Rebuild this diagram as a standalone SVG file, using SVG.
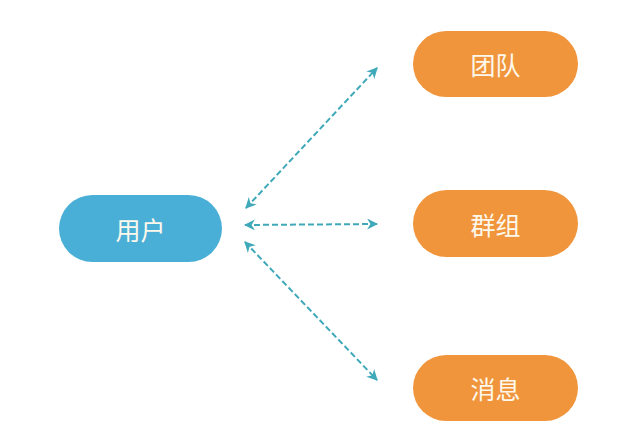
<svg xmlns="http://www.w3.org/2000/svg" width="644" height="439" viewBox="0 0 644 439">
<style>
.user{fill:#4aafd7}
.obj{fill:#f0953b}
.lbl{font-family:"Noto Sans CJK SC","Noto Sans",sans-serif;font-size:25px;fill:#fdf8ec;text-anchor:middle;dominant-baseline:central}
.conn{stroke:#3fa9b9;stroke-width:2;stroke-dasharray:6 3;fill:none;marker-start:url(#ah);marker-end:url(#ah)}
</style>
<defs>
<marker id="ah" viewBox="0 0 10 10" refX="9" refY="5" markerWidth="5.5" markerHeight="5.5" orient="auto-start-reverse" markerUnits="strokeWidth">
<path d="M0,0 L10,5 L0,10 L3,5 Z" fill="#3fa9b9"/>
</marker>
</defs>
<rect width="644" height="439" fill="#ffffff"/>
<g id="connectors">
<line class="conn" x1="246" y1="208" x2="377" y2="68"/>
<line class="conn" x1="245" y1="225" x2="377" y2="224"/>
<line class="conn" x1="245" y1="242" x2="377" y2="380"/>
</g>
<g id="node-user">
<rect class="user" x="59" y="195" width="163" height="67" rx="33.5"/>
<text class="lbl" x="140.5" y="228.5">用户</text>
</g>
<g id="node-team">
<rect class="obj" x="413" y="31" width="165" height="66" rx="33"/>
<text class="lbl" x="495.5" y="64">团队</text>
</g>
<g id="node-group">
<rect class="obj" x="413" y="190" width="165" height="67" rx="33.5"/>
<text class="lbl" x="495.5" y="223.5">群组</text>
</g>
<g id="node-message">
<rect class="obj" x="413" y="355" width="165" height="66" rx="33"/>
<text class="lbl" x="495.5" y="388">消息</text>
</g>
</svg>
